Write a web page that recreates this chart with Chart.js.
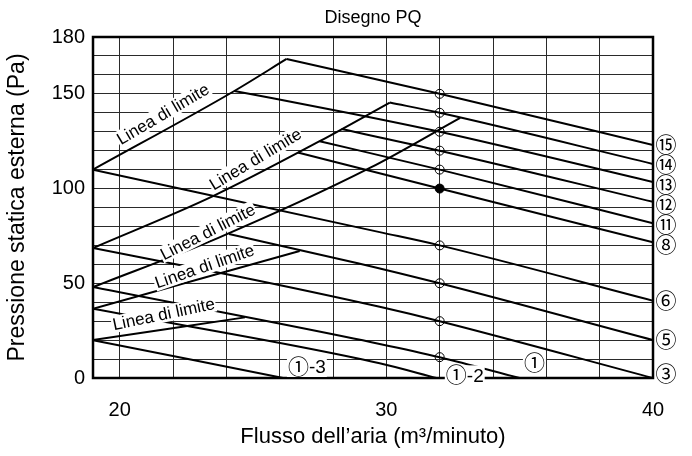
<!DOCTYPE html>
<html>
<head>
<meta charset="utf-8">
<script src="https://cdn.jsdelivr.net/npm/chart.js@4.4.1/dist/chart.umd.min.js"></script>
<style>
  html, body { margin: 0; padding: 0; background: #fff; }
</style>
</head>
<body>
<canvas id="grafikPQ" width="692" height="456"></canvas>
<script>
// Assi
const xMin = 19, xMax = 40;
const yMin = 0, yMax = 180;
const xGrid = [20, 22, 24, 26, 28, 30, 32, 34, 36, 38, 40];
const xTickLabels = [20, 30, 40];
const yTickLabels = [0, 50, 100, 150, 180];

// Linee di limite  [portata m3/min, pressione Pa]
const limite1 = [[19, 110], [24.3, 151.5], [26.26, 168.4]];
const limite2 = [[19, 68.6], [23.5, 96], [27.5, 125], [30.13, 145.4]];
const limite3 = [[19, 48], [23.7, 74], [29.4, 111], [32.77, 137.3]];
const limite4 = [[19, 36.5], [26.75, 67]];
const limite5 = [[19, 20], [24.7, 32]];

// Curve del ventilatore
const curva15 = [[26.26, 168.4], [32, 150], [40, 123]];
const curva14 = [[30.13, 145.4], [32, 140], [40, 113]];
const curva13 = [[24.3, 151.5], [28.63, 139.8], [32, 130], [40, 103.5]];
const curva12 = [[28.32, 131.4], [32, 120], [40, 93]];
const curva11 = [[27.5, 125], [32, 110], [40, 81.7]];
const curva8  = [[26.68, 119], [32, 100], [40, 71.6]];
const curva6  = [[19, 110], [29.75, 77], [32, 70], [40, 40.8]];
const curva5  = [[24.1, 76], [28.93, 60.6], [32, 50], [40, 20]];
const curva3  = [[19, 68.6], [24.3, 54], [29.75, 37.6], [32, 30], [40, 0]];
const curva1  = [[19, 48], [29.75, 18], [32, 11], [35, 0]];
const curva1b = [[19, 36.5], [29.75, 7.8], [31.88, 0]];
const curva1c = [[19, 20], [26.13, 0]];

// Etichette a destra (curve che finiscono a 40)
const curveDestra = [curva15, curva14, curva13, curva12, curva11, curva8, curva6, curva5, curva3];
const etichetteDestra = ['⑮', '⑭', '⑬', '⑫', '⑪', '⑧', '⑥', '⑤', '③'];

// Punti sulla portata di progetto
const portataProgetto = 32;
const pressioniAperte = [150, 140, 130, 120, 110, 70, 50, 30, 11];
const pressioneScelta = 100;

const FONT = '"Liberation Sans", Arial, "Noto Sans CJK JP", sans-serif';

// Testi annotati (posizione in unità del grafico)
const testiLimite = [
    { testo: 'Linea di limite', x: 21.62, y: 139.4, angolo: 30.5 },
    { testo: 'Linea di limite', x: 25.09, y: 115.6, angolo: 31 },
    { testo: 'Linea di limite', x: 23.3,  y: 77.2,  angolo: 27 },
    { testo: 'Linea di limite', x: 23.18, y: 59,    angolo: 19 },
    { testo: 'Linea di limite', x: 21.65, y: 33.8,  angolo: 12 },
];
const testiBasso = [
    { cerchio: '①', testo: '-3', x: 26.31, y: 5.8 },
    { cerchio: '①', testo: '-2', x: 32.23, y: 1.4 },
    { cerchio: '①', testo: '',   x: 35.16, y: 7.9 },
];

function punti(arr) {
    return arr.map(p => ({ x: p[0], y: p[1] }));
}

function linea(arr) {
    return {
        type: 'scatter',
        data: punti(arr),
        showLine: true,
        borderColor: '#000',
        borderWidth: 2,
        pointRadius: 0,
        cubicInterpolationMode: 'monotone',
        fill: false
    };
}

const datasets = [
    limite1, limite2, limite3, limite4, limite5,
    curva15, curva14, curva13, curva12, curva11, curva8,
    curva6, curva5, curva3, curva1, curva1b, curva1c
].map(linea);

datasets.push({
    type: 'scatter',
    data: pressioniAperte.map(p => ({ x: portataProgetto, y: p })),
    pointRadius: 4.5,
    pointBorderWidth: 1,
    pointBorderColor: '#000',
    pointBackgroundColor: 'rgba(0,0,0,0)'
});
datasets.push({
    type: 'scatter',
    data: [{ x: portataProgetto, y: pressioneScelta }],
    pointRadius: 4.5,
    pointBorderWidth: 1,
    pointBorderColor: '#000',
    pointBackgroundColor: '#000'
});

const pluginPQ = {
    id: 'pluginPQ',
    afterDatasetsDraw(chart) {
        const { ctx, chartArea: a, scales } = chart;
        const sx = scales.x, sy = scales.y;
        ctx.save();

        // titolo
        ctx.fillStyle = '#000';
        ctx.font = '18px ' + FONT;
        ctx.textAlign = 'center';
        ctx.textBaseline = 'middle';
        ctx.fillText('Disegno PQ', (a.left + a.right) / 2, 18);

        // cornice
        ctx.strokeStyle = '#000';
        ctx.lineWidth = 2.5;
        ctx.strokeRect(a.left, a.top, a.right - a.left, a.bottom - a.top);

        // scritte "Linea di limite"
        ctx.font = '17px ' + FONT;
        testiLimite.forEach(t => {
            const px = sx.getPixelForValue(t.x);
            const py = sy.getPixelForValue(t.y);
            const w = ctx.measureText(t.testo).width;
            ctx.save();
            ctx.translate(px, py);
            ctx.rotate(-t.angolo * Math.PI / 180);
            ctx.fillStyle = '#fff';
            ctx.fillRect(-w / 2 - 1, -8.5, w + 2, 17);
            ctx.fillStyle = '#000';
            ctx.fillText(t.testo, 0, 1);
            ctx.restore();
        });

        // etichette in basso
        ctx.textAlign = 'left';
        testiBasso.forEach(t => {
            const px = sx.getPixelForValue(t.x);
            const py = sy.getPixelForValue(t.y);
            ctx.font = '21px ' + FONT;
            const wc = ctx.measureText(t.cerchio).width;
            ctx.font = '19px ' + FONT;
            const wt = ctx.measureText(t.testo).width;
            ctx.fillStyle = '#fff';
            ctx.fillRect(px - 1, py - 10, wc + wt + 2, 20);
            ctx.fillStyle = '#000';
            ctx.font = '21px ' + FONT;
            ctx.fillText(t.cerchio, px, py + 1);
            ctx.font = '19px ' + FONT;
            ctx.fillText(t.testo, px + wc, py + 1);
        });

        // etichette a destra
        ctx.font = '21px ' + FONT;
        ctx.textAlign = 'center';
        let ultimo = -1e9;
        curveDestra.forEach((c, i) => {
            const fine = c[c.length - 1];
            let py = sy.getPixelForValue(fine[1]);
            py = Math.max(py, ultimo + 20);
            py = Math.min(py, a.bottom - 4);
            ultimo = py;
            ctx.fillStyle = '#000';
            ctx.fillText(etichetteDestra[i], a.right + 13, py + 1);
        });

        ctx.restore();
    }
};

const ctx = document.getElementById('grafikPQ').getContext('2d');
new Chart(ctx, {
    type: 'scatter',
    data: { datasets: datasets },
    options: {
        responsive: false,
        devicePixelRatio: 1,
        animation: false,
        layout: { padding: { left: 0, right: 39, top: 37, bottom: 0 } },
        plugins: {
            legend: { display: false },
            tooltip: { enabled: false },
            title: { display: false }
        },
        scales: {
            x: {
                type: 'linear',
                min: xMin,
                max: xMax,
                afterBuildTicks: s => { s.ticks = xGrid.map(v => ({ value: v })); },
                afterFit: s => { s.height = 78; },
                grid: { color: '#2a2a2a', lineWidth: 1, drawTicks: false },
                border: { display: false },
                ticks: {
                    color: '#000',
                    padding: 20,
                    autoSkip: false,
                    maxRotation: 0,
                    font: { family: FONT, size: 20 },
                    callback: v => xTickLabels.includes(v) ? v : ''
                },
                title: {
                    display: true,
                    text: 'Flusso dell\u2019aria (m\u00b3/minuto)',
                    color: '#000',
                    font: { family: FONT, size: 22 },
                    padding: { top: 2, bottom: 6 }
                }
            },
            y: {
                type: 'linear',
                min: yMin,
                max: yMax,
                afterFit: s => { s.width = 93; },
                grid: { color: '#2a2a2a', lineWidth: 1, drawTicks: false },
                border: { display: false },
                ticks: {
                    stepSize: 10,
                    color: '#000',
                    padding: 8,
                    autoSkip: false,
                    font: { family: FONT, size: 20 },
                    callback: v => yTickLabels.includes(v) ? v : ''
                },
                title: {
                    display: true,
                    text: 'Pressione statica esterna (Pa)',
                    color: '#000',
                    font: { family: FONT, size: 23 },
                    padding: { top: 4, bottom: 4 }
                }
            }
        }
    },
    plugins: [pluginPQ]
});
</script>
</body>
</html>
